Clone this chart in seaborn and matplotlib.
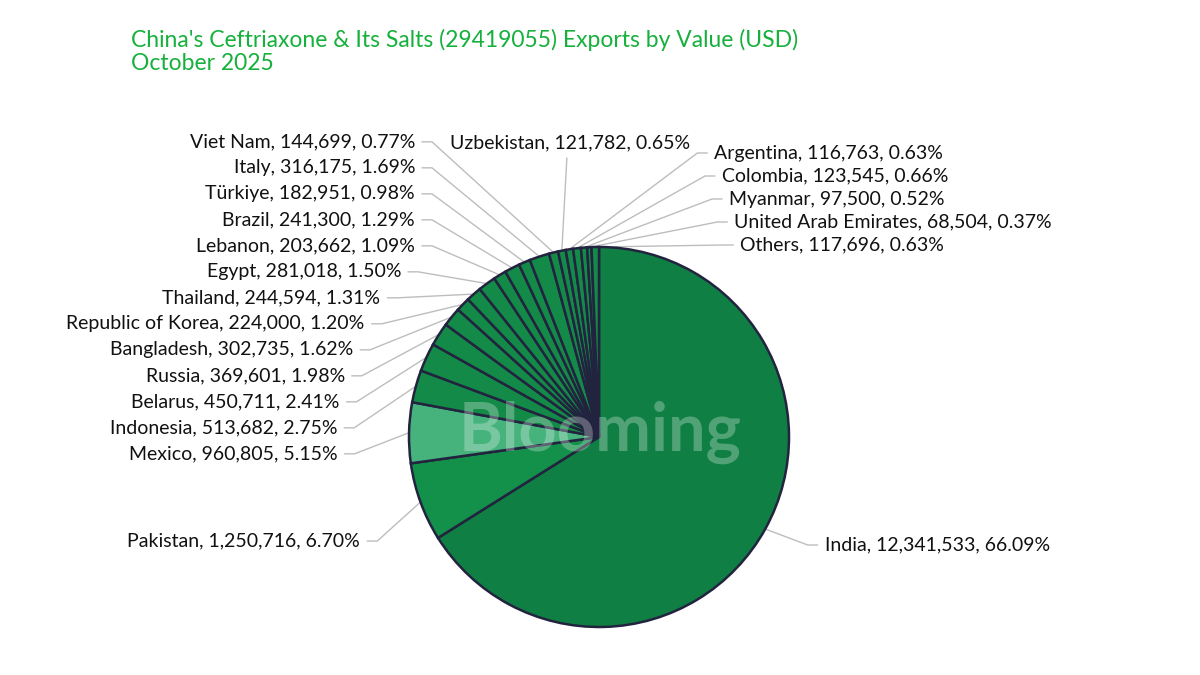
import numpy as np
import matplotlib.pyplot as plt
import seaborn as sns

sns.set_theme(style="white")
plt.rcParams["font.family"] = ["Lato", "DejaVu Sans"]

# data, in the slice order of the chart (clockwise from 12 o'clock)
countries = ["India", "Pakistan", "Mexico", "Indonesia", "Belarus", "Russia",
             "Bangladesh", "Republic of Korea", "Thailand", "Egypt", "Lebanon",
             "Brazil", "Türkiye", "Italy", "Viet Nam", "Uzbekistan", "Argentina",
             "Colombia", "Myanmar", "United Arab Emirates", "Others"]
values = [12341533, 1250716, 960805, 513682, 450711, 369601,
          302735, 224000, 244594, 281018, 203662,
          241300, 182951, 316175, 144699, 121782, 116763,
          123545, 97500, 68504, 117696]
shares = [66.09, 6.70, 5.15, 2.75, 2.41, 1.98,
          1.62, 1.20, 1.31, 1.50, 1.09,
          1.29, 0.98, 1.69, 0.77, 0.65, 0.63,
          0.66, 0.52, 0.37, 0.63]

title_1 = "China's Ceftriaxone & Its Salts (29419055) Exports by Value (USD)"
title_2 = "October 2025"

# colours
base_green = "#138A47"
special = {"India": "#0F7F43", "Pakistan": "#13904A", "Mexico": "#46B27C"}
colors = [special.get(c, base_green) for c in countries]
edge = "#22243F"
line_col = "#BDBDBD"
text_col = "#111111"

fig = plt.figure(figsize=(12, 6.75), dpi=100)
ax = fig.add_axes([0, 0, 1, 1])

# pixel-like coordinates, y from the bottom
cx, cy, R = 599, 238, 190
wedges, _ = ax.pie(values, startangle=90, counterclock=False, colors=colors,
                   center=(cx, cy), radius=R,
                   wedgeprops=dict(edgecolor=edge, linewidth=1.8))
ax.set_xlim(0, 1200)
ax.set_ylim(0, 675)
ax.set_aspect("equal")
ax.axis("off")

# label layout
items = []
for w, c, v, s in zip(wedges, countries, values, shares):
    deg = ((w.theta1 + w.theta2) / 2) % 360
    a = np.deg2rad(deg)
    ex, ey = cx + R * np.cos(a), cy + R * np.sin(a)
    if deg < 100.5 or deg > 270:
        side = "right"
    elif deg <= 102:
        side = "top"
    else:
        side = "left"
    items.append(dict(text=f"{c}, {v:,}, {s:.2f}%", ex=ex, ey=ey, side=side,
                      deg=deg if deg < 270 else deg - 360,
                      nat=cy + 1.6 * R * np.sin(a)))


def spread(group, top, gap, bottom=130):
    prev = top + gap
    for d in group:
        d["y"] = max(min(d["nat"], prev - gap), bottom)
        prev = d["y"]


left = sorted([d for d in items if d["side"] == "left"], key=lambda d: d["deg"])
right = sorted([d for d in items if d["side"] == "right"], key=lambda d: -d["deg"])
spread(left, 535, 26)
spread(right, 522, 23)

for d in left + right:
    dy = d["y"] - cy
    if d["side"] == "left":
        off = max(np.sqrt(max(245 ** 2 - dy ** 2, 0)), 167)
        elbow = cx - off
        end = elbow - 10
        tx, ha = end - 7, "right"
    else:
        if d["y"] > cy + R:
            elbow = d["ex"] + 128
        else:
            elbow = cx + np.sqrt(max(235 ** 2 - dy ** 2, 0))
        end = elbow + 10
        tx, ha = end + 7, "left"
    ax.plot([d["ex"], elbow, end], [d["ey"], d["y"], d["y"]],
            color=line_col, lw=1, zorder=0)
    ax.text(tx, d["y"], d["text"], ha=ha, va="center", fontsize=14, color=text_col)

for d in items:
    if d["side"] == "top":
        ax.plot([d["ex"], d["ex"] + 5], [d["ey"], 517], color=line_col, lw=1, zorder=0)
        ax.text(d["ex"] + 8, 532, d["text"], ha="center", va="center",
                fontsize=14, color=text_col)

# watermark
ax.text(600, 243, "Blooming", ha="center", va="center", fontsize=48,
        fontweight="bold", color="white", alpha=0.28, zorder=5)

fig.text(131 / 1200, 1 - 40 / 675, title_1, color="#16B03C", fontsize=16.5, va="center")
fig.text(131 / 1200, 1 - 64 / 675, title_2, color="#16B03C", fontsize=16.5, va="center")

fig.savefig("out.png", dpi=100, facecolor="white")
